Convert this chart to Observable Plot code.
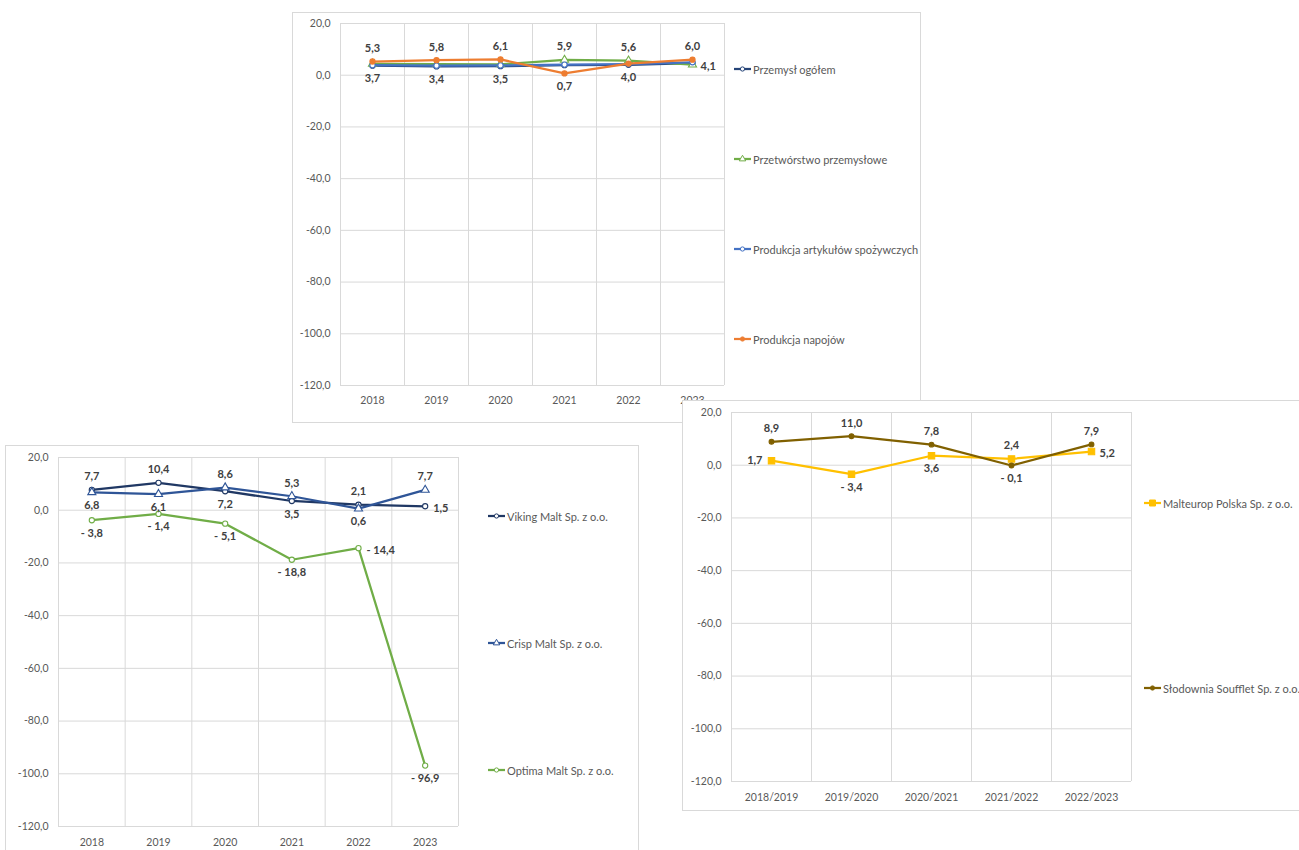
<!DOCTYPE html>
<html><head><meta charset="utf-8">
<script src="https://cdn.jsdelivr.net/npm/d3@7"></script>
<script src="https://cdn.jsdelivr.net/npm/@observablehq/plot@0.6"></script>
<style>
html,body{margin:0;padding:0;background:#fff;width:1299px;height:850px;overflow:hidden;font-family:Lato,"Open Sans",sans-serif;}
#page{position:relative;width:1299px;height:850px;overflow:hidden;}
.frame{position:absolute;background:#fff;border:1px solid #d9d9d9;box-sizing:border-box;}
.frame > svg.plot{position:absolute;left:0;top:0;}
.legend{position:absolute;font-size:11px;color:#595959;white-space:nowrap;display:flex;align-items:center;height:12px;}
.legend svg{margin-right:1px;}
</style></head><body><div id="page"></div>
<script>
// ---------- DATA ----------
const yTicks = [20, 0, -20, -40, -60, -80, -100, -120];

// Chart 1 – industry
const industryYears = ["2018", "2019", "2020", "2021", "2022", "2023"];
const industryNames = ["Przemysł ogółem", "Przetwórstwo przemysłowe", "Produkcja artykułów spożywczych", "Produkcja napojów"];
const przemyslOgolem = [3.7, 3.4, 3.5, 3.9, 4.0, 4.7];
const przetworstwo   = [4.4, 4.3, 4.2, 5.9, 5.6, 4.1];
const spozywcze      = [3.9, 3.7, 3.8, 4.1, 4.3, 5.0];
const napoje         = [5.3, 5.8, 6.1, 0.7, 4.5, 6.0];

// Chart 2 – maltings (calendar years)
const maltYears = ["2018", "2019", "2020", "2021", "2022", "2023"];
const maltNames = ["Viking Malt Sp. z o.o.", "Crisp Malt Sp. z o.o.", "Optima Malt Sp. z o.o."];
const vikingMalt = [7.7, 10.4, 7.2, 3.5, 2.1, 1.5];
const crispMalt  = [6.8, 6.1, 8.6, 5.3, 0.6, 7.7];
const optimaMalt = [-3.8, -1.4, -5.1, -18.8, -14.4, -96.9];

// Chart 3 – maltings (seasons)
const seasons = ["2018/2019", "2019/2020", "2020/2021", "2021/2022", "2022/2023"];
const seasonNames = ["Malteurop Polska Sp. z o.o.", "Słodownia Soufflet Sp. z o.o."];
const malteurop = [1.7, -3.4, 3.6, 2.4, 5.2];
const soufflet  = [8.9, 11.0, 7.8, -0.1, 7.9];

// ---------- HELPERS ----------
const fmtLabel = v => { const s = Math.abs(v).toFixed(1).replace(".", ","); return v < 0 ? "- " + s : s; };
const fmtTick = v => (v < 0 ? "-" : "") + Math.abs(v).toFixed(1).replace(".", ",");
const page = document.getElementById("page");

function legendSymbol(s) {
  const ns = "http://www.w3.org/2000/svg";
  const svg = document.createElementNS(ns, "svg");
  svg.setAttribute("width", 19); svg.setAttribute("height", 10);
  const line = document.createElementNS(ns, "line");
  line.setAttribute("x1", 1); line.setAttribute("x2", 18); line.setAttribute("y1", 5); line.setAttribute("y2", 5);
  line.setAttribute("stroke", s.color); line.setAttribute("stroke-width", 2.25);
  svg.appendChild(line);
  const sym = {circle: d3.symbolCircle, triangle: d3.symbolTriangle, square: d3.symbolSquare}[s.symbol];
  const p = document.createElementNS(ns, "path");
  const area = s.symbol === "square" ? 36 : (s.symbol === "triangle" ? 18 : 14);
  p.setAttribute("d", d3.symbol(sym, area)());
  p.setAttribute("transform", "translate(9.5,5)");
  p.setAttribute("fill", s.open ? "#fff" : s.color);
  p.setAttribute("stroke", s.color); p.setAttribute("stroke-width", 1);
  svg.appendChild(p);
  return svg;
}

function makeChart(cfg) {
  const frame = document.createElement("div");
  frame.className = "frame";
  Object.assign(frame.style, {left: cfg.frame[0] + "px", top: cfg.frame[1] + "px", width: cfg.frame[2] + "px", height: cfg.frame[3] + "px"});
  page.appendChild(frame);
  const n = cfg.categories.length;
  const idx = d3.range(n);
  const rows = cfg.series.flatMap(s => s.values.map((v, i) => ({i, series: s.name, value: v, place: s.place[i]})));
  const marks = [
    Plot.ruleY(yTicks, {stroke: "#d9d9d9", strokeWidth: 1}),
    Plot.ruleX(d3.range(n + 1).map(k => k - 0.5), {stroke: "#d9d9d9", strokeWidth: 1})
  ];
  for (const s of cfg.series) {
    const d = rows.filter(r => r.series === s.name);
    marks.push(Plot.line(d, {x: "i", y: "value", stroke: s.color, strokeWidth: 2.25}));
    marks.push(Plot.dot(d, {x: "i", y: "value", symbol: s.symbol, r: s.r, fill: s.open ? "#fff" : s.color, stroke: s.color, strokeWidth: 1.1}));
  }
  const lab = {x: "i", y: "value", text: d => fmtLabel(d.value), fontWeight: "bold", fill: "#404040", fontSize: 11};
  marks.push(Plot.text(rows.filter(r => r.place === "a"), {...lab, dy: -13}));
  marks.push(Plot.text(rows.filter(r => r.place === "b"), {...lab, dy: 13}));
  marks.push(Plot.text(rows.filter(r => r.place === "r"), {...lab, dx: 8, dy: 2, textAnchor: "start"}));
  marks.push(Plot.text(rows.filter(r => r.place === "l"), {...lab, dx: -9, textAnchor: "end"}));
  const m = cfg.margins;
  const svg = Plot.plot({
    width: cfg.size[0], height: cfg.size[1],
    marginLeft: m[0], marginRight: m[1], marginTop: m[2], marginBottom: m[3],
    style: {fontFamily: "Lato, 'Open Sans', sans-serif", fontSize: "10.5px", color: "#595959", background: "transparent", maxWidth: "none"},
    x: {domain: [-0.5, n - 0.5], ticks: idx, tickFormat: i => cfg.categories[i], tickSize: 0, tickPadding: cfg.xPad, label: null},
    y: {domain: [-120, 20], ticks: yTicks, tickFormat: fmtTick, tickSize: 0, tickPadding: 10, label: null},
    marks
  });
  svg.classList.add("plot");
  frame.appendChild(svg);
  cfg.series.forEach((s, k) => {
    const lg = document.createElement("div");
    lg.className = "legend";
    lg.style.left = cfg.legend.x + "px";
    lg.style.top = (cfg.legend.ys[k] - 6) + "px";
    lg.appendChild(legendSymbol(s));
    const t = document.createElement("span");
    t.textContent = s.name;
    lg.appendChild(t);
    frame.appendChild(lg);
  });
}

// Chart 1 (top)
makeChart({
  frame: [292, 12, 629, 411], size: [627, 409], margins: [47, 196, 10, 37], xPad: 11,
  categories: industryYears,
  legend: {x: 440, ys: [56, 146, 236, 326]},
  series: [
    {name: industryNames[0], values: przemyslOgolem, color: "#264478", symbol: "circle", r: 2.6, open: true, place: ["b", "b", "b", null, "b", null]},
    {name: industryNames[1], values: przetworstwo, color: "#70AD47", symbol: "triangle", r: 3, open: true, place: [null, null, null, "a", "a", "r"]},
    {name: industryNames[2], values: spozywcze, color: "#4472C4", symbol: "circle", r: 2.6, open: true, place: [null, null, null, null, null, null]},
    {name: industryNames[3], values: napoje, color: "#ED7D31", symbol: "circle", r: 2.6, open: false, place: ["a", "a", "a", "b", null, "a"]}
  ]
});

// Chart 2 (bottom left)
makeChart({
  frame: [5, 445, 634, 430], size: [632, 428], margins: [52, 180, 11, 48], xPad: 12,
  categories: maltYears,
  legend: {x: 481, ys: [70, 197, 324]},
  series: [
    {name: maltNames[0], values: vikingMalt, color: "#203864", symbol: "circle", r: 2.6, open: true, place: ["a", "a", "b", "b", "a", "r"]},
    {name: maltNames[1], values: crispMalt, color: "#2F5597", symbol: "triangle", r: 3, open: true, place: ["b", "b", "a", "a", "b", "a"]},
    {name: maltNames[2], values: optimaMalt, color: "#70AD47", symbol: "circle", r: 2.6, open: true, place: ["b", "b", "b", "b", "r", "b"]}
  ]
});

// Chart 3 (bottom right)
makeChart({
  frame: [682, 400, 640, 411], size: [638, 409], margins: [48, 190, 11, 29], xPad: 12,
  categories: seasons,
  legend: {x: 460, ys: [102, 287]},
  series: [
    {name: seasonNames[0], values: malteurop, color: "#FFC000", symbol: "square", r: 3.6, open: false, place: ["l", "b", "b", "a", "r"]},
    {name: seasonNames[1], values: soufflet, color: "#806000", symbol: "circle", r: 2.4, open: false, place: ["a", "a", "a", "b", "a"]}
  ]
});
</script></body></html>
